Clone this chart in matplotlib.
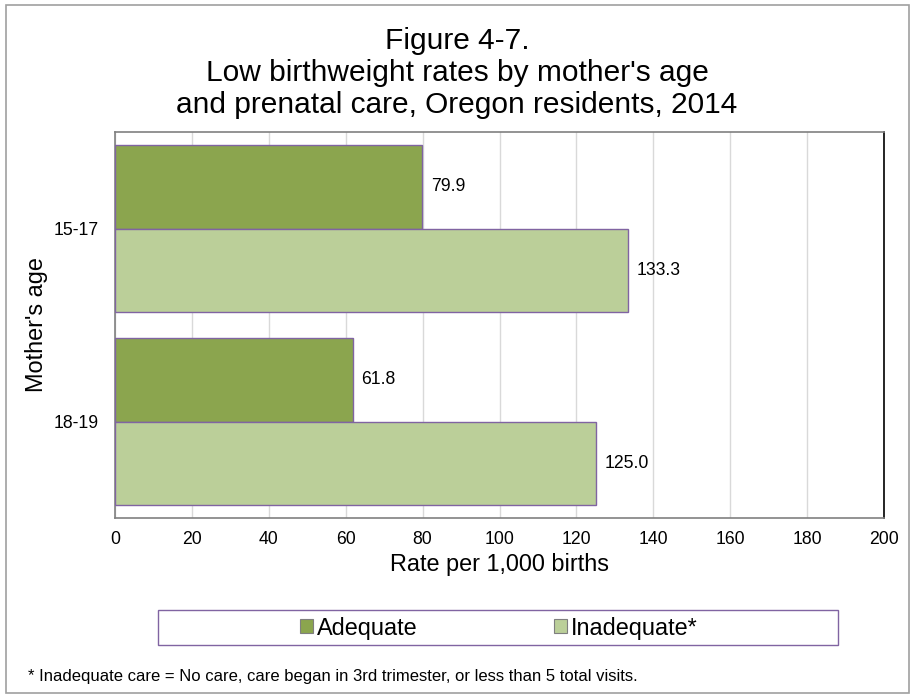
import matplotlib
matplotlib.use('Agg')
import matplotlib.pyplot as plt
import numpy as np
from matplotlib.patches import Rectangle

plt.rcParams['font.family'] = ['Liberation Sans', 'DejaVu Sans']

## DATA
ages = ['15-17', '18-19']
adequate = [79.9, 61.8]
inadequate = [133.3, 125.0]
series_names = ['Adequate', 'Inadequate*']
x_ticks = [0, 20, 40, 60, 80, 100, 120, 140, 160, 180, 200]

## STYLE
c_adequate = '#8BA54E'
c_inadequate = '#BBCF99'
c_edge = '#8064A2'
W, H = 914, 698

fig = plt.figure(figsize=(W/100, H/100), dpi=100)
# outer chart border
fig.patches.append(Rectangle((6/W, 5/H), 903/W, 688/H, transform=fig.transFigure,
                             fill=False, edgecolor='#A0A0A0', linewidth=1.2))

ax = fig.add_axes([115/W, 1 - 518/H, 769/W, 386/H])

pos = np.arange(len(ages))
bh = 0.433
ax.barh(pos - bh/2, adequate, height=bh, color=c_adequate, edgecolor=c_edge, linewidth=1, label=series_names[0], zorder=3)
ax.barh(pos + bh/2, inadequate, height=bh, color=c_inadequate, edgecolor=c_edge, linewidth=1, label=series_names[1], zorder=3)

for i in range(len(ages)):
    ax.text(adequate[i] + 2.3, pos[i] - bh/2, '%.1f' % adequate[i], va='center', ha='left', fontsize=12.7, zorder=4)
    ax.text(inadequate[i] + 2.3, pos[i] + bh/2, '%.1f' % inadequate[i], va='center', ha='left', fontsize=12.7, zorder=4)

ax.set_ylim(len(ages) - 0.5, -0.5)
ax.set_xlim(0, 200)
ax.set_xticks(x_ticks)
ax.set_yticks(pos)
ax.set_yticklabels(ages)
ax.tick_params(axis='both', length=0, labelsize=12.7)
ax.tick_params(axis='x', pad=9)
ax.tick_params(axis='y', pad=12)
ax.xaxis.grid(True, color='#D9D9D9', linewidth=1, zorder=0)

ax.spines['left'].set_color('#808080')
ax.spines['bottom'].set_color('#808080')
ax.spines['top'].set_color('#808080')
ax.spines['right'].set_color('#000000')
for s in ax.spines.values():
    s.set_linewidth(1.2)

# axis titles
fig.text(499/W, 1 - 565/H, "Rate per 1,000 births", ha='center', va='center', fontsize=16.9)
fig.text(36/W, 1 - 325/H, "Mother's age", ha='center', va='center', rotation=90, fontsize=16.9)

fig.text(0.5, 1 - 73/H, 'Figure 4-7.\nLow birthweight rates by mother\'s age\nand prenatal care, Oregon residents, 2014',
         ha='center', va='center', fontsize=21.5, linespacing=1.2)

# legend box
fig.patches.append(Rectangle((158/W, 1 - 645/H), 680/W, 35/H, transform=fig.transFigure,
                             fill=False, edgecolor=c_edge, linewidth=1))
h, l = ax.get_legend_handles_labels()
leg = fig.legend(h, l, loc='center', bbox_to_anchor=(499/W, 1 - 628/H),
                 ncol=2, fontsize=16.9, frameon=False, handlelength=0.55, handleheight=0.55,
                 handletextpad=0.17, columnspacing=5.8, borderpad=0, borderaxespad=0)
for p in leg.get_patches():
    p.set_edgecolor('#7F7F7F')
    p.set_linewidth(0.8)

fig.text(28/W, 1 - 677/H, '* Inadequate care = No care, care began in 3rd trimester, or less than 5 total visits.',
         ha='left', va='center', fontsize=12)

fig.savefig('out.png', dpi=100)
